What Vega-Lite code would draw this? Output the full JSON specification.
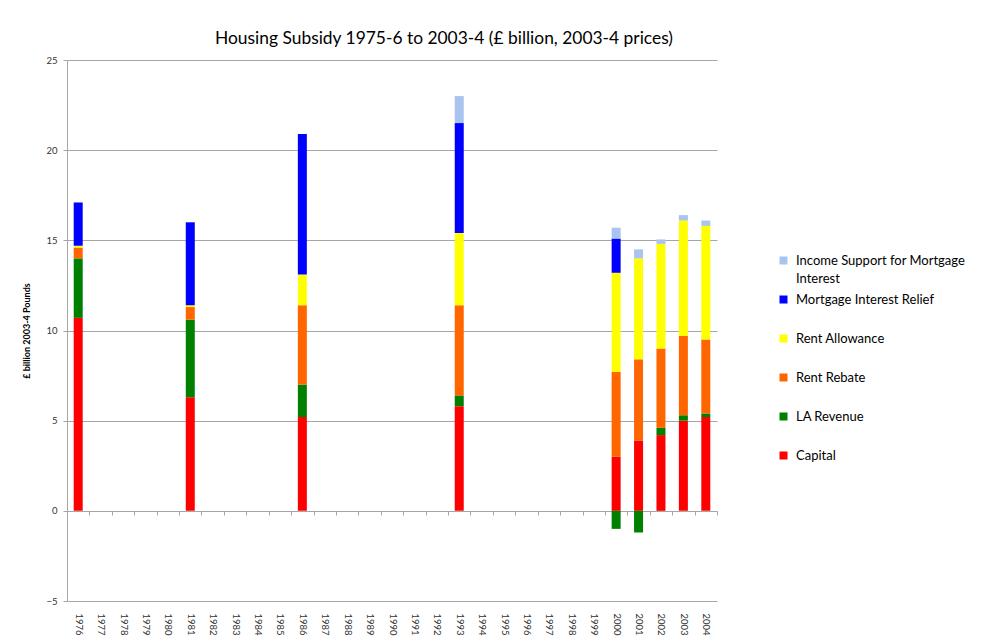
{
  "$schema": "https://vega.github.io/schema/vega-lite/v6.json",
  "width": 650,
  "height": 541,
  "autosize": "none",
  "padding": {"left": 67, "top": 60, "right": 272, "bottom": 40},
  "background": "white",
  "title": {"text": "Housing Subsidy 1975-6 to 2003-4 (£ billion, 2003-4 prices)", "anchor": "start", "frame": "group", "dx": 148, "offset": 8, "fontSize": 17.4, "font": "Lato", "fontWeight": "normal", "color": "#000000"},
  "config": {"view": {"stroke": null}, "font": "Lato", "style": {"guide-label": {"lineHeight": 18}}},
  "data": {"values": [
    {"year": "1976", "category": "Capital", "value": 10.7, "order": 1},
    {"year": "1976", "category": "LA Revenue", "value": 3.3, "order": 2},
    {"year": "1976", "category": "Rent Rebate", "value": 0.6, "order": 3},
    {"year": "1976", "category": "Rent Allowance", "value": 0.1, "order": 4},
    {"year": "1976", "category": "Mortgage Interest Relief", "value": 2.4, "order": 5},
    {"year": "1981", "category": "Capital", "value": 6.3, "order": 1},
    {"year": "1981", "category": "LA Revenue", "value": 4.3, "order": 2},
    {"year": "1981", "category": "Rent Rebate", "value": 0.7, "order": 3},
    {"year": "1981", "category": "Rent Allowance", "value": 0.1, "order": 4},
    {"year": "1981", "category": "Mortgage Interest Relief", "value": 4.6, "order": 5},
    {"year": "1986", "category": "Capital", "value": 5.2, "order": 1},
    {"year": "1986", "category": "LA Revenue", "value": 1.8, "order": 2},
    {"year": "1986", "category": "Rent Rebate", "value": 4.4, "order": 3},
    {"year": "1986", "category": "Rent Allowance", "value": 1.7, "order": 4},
    {"year": "1986", "category": "Mortgage Interest Relief", "value": 7.8, "order": 5},
    {"year": "1993", "category": "Capital", "value": 5.8, "order": 1},
    {"year": "1993", "category": "LA Revenue", "value": 0.6, "order": 2},
    {"year": "1993", "category": "Rent Rebate", "value": 5.0, "order": 3},
    {"year": "1993", "category": "Rent Allowance", "value": 4.0, "order": 4},
    {"year": "1993", "category": "Mortgage Interest Relief", "value": 6.1, "order": 5},
    {"year": "1993", "category": "Income Support for Mortgage Interest", "value": 1.5, "order": 6},
    {"year": "2000", "category": "Capital", "value": 3.0, "order": 1},
    {"year": "2000", "category": "LA Revenue", "value": -1.0, "order": 2},
    {"year": "2000", "category": "Rent Rebate", "value": 4.7, "order": 3},
    {"year": "2000", "category": "Rent Allowance", "value": 5.5, "order": 4},
    {"year": "2000", "category": "Mortgage Interest Relief", "value": 1.9, "order": 5},
    {"year": "2000", "category": "Income Support for Mortgage Interest", "value": 0.6, "order": 6},
    {"year": "2001", "category": "Capital", "value": 3.9, "order": 1},
    {"year": "2001", "category": "LA Revenue", "value": -1.2, "order": 2},
    {"year": "2001", "category": "Rent Rebate", "value": 4.5, "order": 3},
    {"year": "2001", "category": "Rent Allowance", "value": 5.6, "order": 4},
    {"year": "2001", "category": "Income Support for Mortgage Interest", "value": 0.5, "order": 6},
    {"year": "2002", "category": "Capital", "value": 4.2, "order": 1},
    {"year": "2002", "category": "LA Revenue", "value": 0.4, "order": 2},
    {"year": "2002", "category": "Rent Rebate", "value": 4.4, "order": 3},
    {"year": "2002", "category": "Rent Allowance", "value": 5.8, "order": 4},
    {"year": "2002", "category": "Income Support for Mortgage Interest", "value": 0.25, "order": 6},
    {"year": "2003", "category": "Capital", "value": 5.0, "order": 1},
    {"year": "2003", "category": "LA Revenue", "value": 0.3, "order": 2},
    {"year": "2003", "category": "Rent Rebate", "value": 4.4, "order": 3},
    {"year": "2003", "category": "Rent Allowance", "value": 6.4, "order": 4},
    {"year": "2003", "category": "Income Support for Mortgage Interest", "value": 0.3, "order": 6},
    {"year": "2004", "category": "Capital", "value": 5.2, "order": 1},
    {"year": "2004", "category": "LA Revenue", "value": 0.2, "order": 2},
    {"year": "2004", "category": "Rent Rebate", "value": 4.1, "order": 3},
    {"year": "2004", "category": "Rent Allowance", "value": 6.3, "order": 4},
    {"year": "2004", "category": "Income Support for Mortgage Interest", "value": 0.3, "order": 6}
  ]},
  "mark": {"type": "bar", "size": 9},
  "encoding": {
    "x": {
      "field": "year", "type": "ordinal",
      "scale": {"domain": ["1976","1977","1978","1979","1980","1981","1982","1983","1984","1985","1986","1987","1988","1989","1990","1991","1992","1993","1994","1995","1996","1997","1998","1999","2000","2001","2002","2003","2004"], "paddingInner": 0, "paddingOuter": 0},
      "axis": {"title": null, "labelAngle": 90, "labelAlign": "left", "labelBaseline": "middle", "offset": -90, "labelPadding": 98, "tickBand": "extent", "domainColor": "#a6a6a6", "tickColor": "#a6a6a6", "tickSize": 4, "labelFontSize": 9.5, "labelColor": "#333333", "grid": false}
    },
    "y": {
      "field": "value", "type": "quantitative", "stack": "zero",
      "scale": {"domain": [-5, 25], "nice": false},
      "axis": {"values": [-5, 0, 5, 10, 15, 20, 25], "title": "£ billion 2003-4 Pounds", "titleFontSize": 9, "titleFontWeight": "bold", "titleColor": "#000000", "titlePadding": 14, "gridColor": "#a6a6a6", "domainColor": "#a6a6a6", "tickColor": "#a6a6a6", "tickSize": 4, "labelFontSize": 9.5, "labelColor": "#333333", "labelPadding": 6}
    },
    "color": {
      "field": "category", "type": "nominal",
      "scale": {
        "domain": ["Income Support for Mortgage Interest", "Mortgage Interest Relief", "Rent Allowance", "Rent Rebate", "LA Revenue", "Capital"],
        "range": ["#a9c4ee", "#0000ff", "#ffff00", "#ff6600", "#008000", "#ff0000"]
      },
      "legend": {"title": null, "orient": "none", "legendX": 710, "legendY": 194, "padding": 0, "symbolType": "square", "symbolSize": 64, "symbolStrokeWidth": 0, "symbolOpacity": 1, "labelFontSize": 13, "labelColor": "#000000", "labelLimit": 300, "rowPadding": 7, "labelOffset": 6,
        "labelExpr": "datum.label == 'Income Support for Mortgage Interest' ? ['Income Support for Mortgage', 'Interest'] : [datum.label, '']"}
    },
    "order": {"field": "order", "type": "quantitative", "sort": "ascending"}
  }
}
